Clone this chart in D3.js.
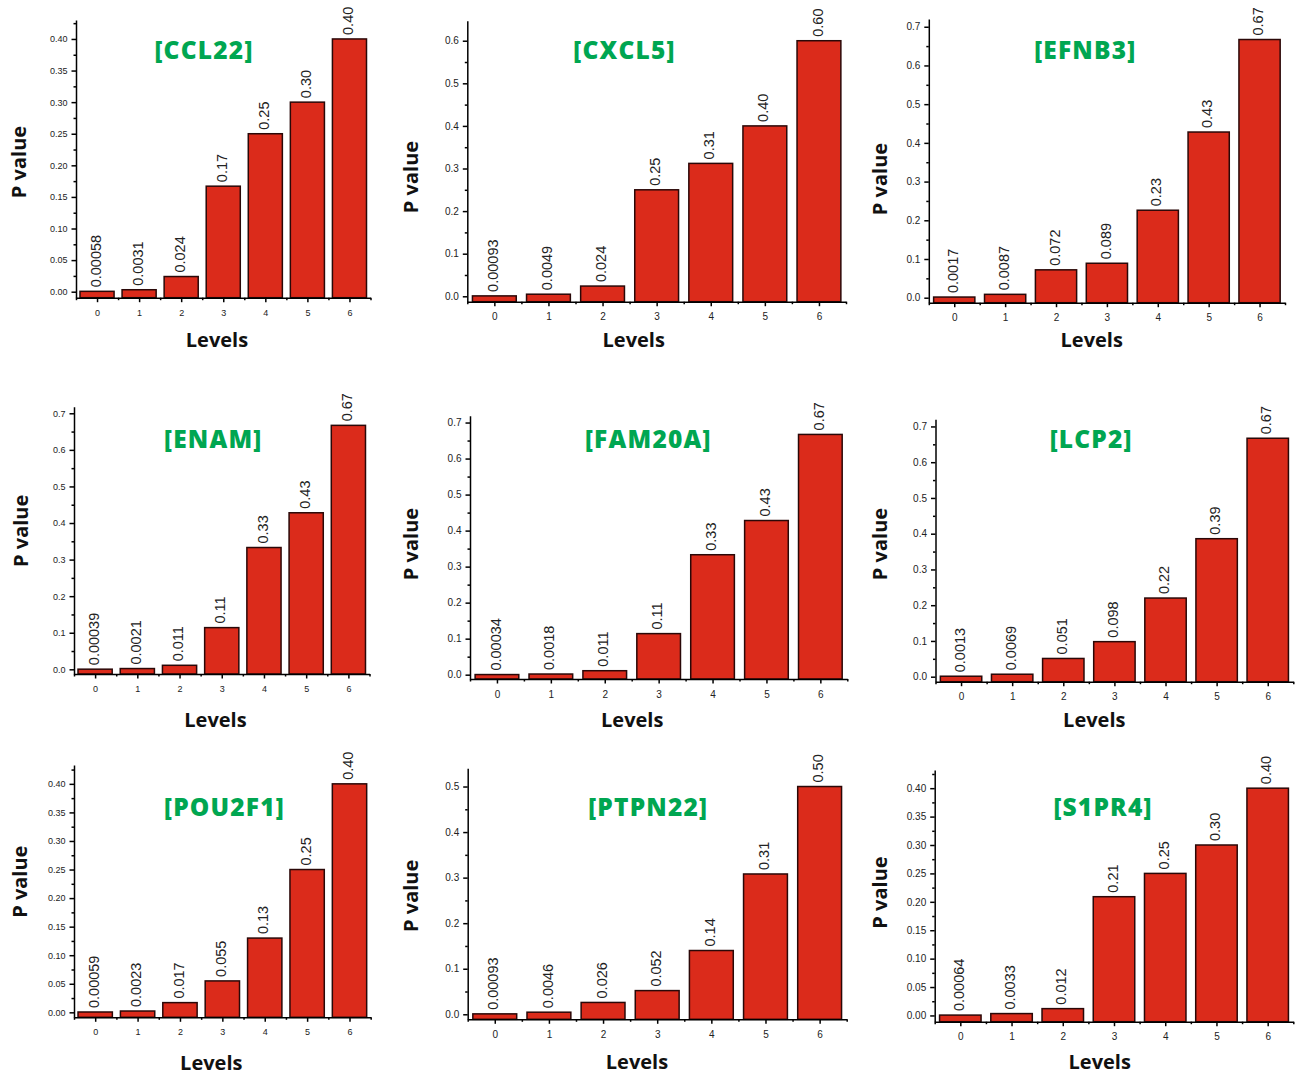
<!DOCTYPE html>
<html lang="en">
<head>
  <meta charset="utf-8">
  <title>P value por nivel</title>
  <script src="https://d3js.org/d3.v7.min.js"></script>
  <style>
    body { margin: 0; background: #fff; }
    .eixo path, .eixo line { stroke: #000; stroke-width: 1.5px; }
    .eixo text { font-family: "Liberation Sans", Arial, sans-serif; fill: #222; }
    .barra { fill: #db2b1b; stroke: #2a0808; stroke-width: 1.5px; }
    .rotulo { font: 14.5px "Liberation Sans", Arial, sans-serif; fill: #222; }
    .titulo { font-family: "Open Sans", sans-serif; font-weight: 800; font-size: 24.5px; letter-spacing: 1.2px; fill: #00a651; }
    .nomeEixo { font-family: "Open Sans", sans-serif; font-weight: 700; font-size: 20px; fill: #111; }
  </style>
</head>
<body>
  <svg id="chart" width="1304" height="1077"></svg>

  <script>
    "use strict"
    // dados
    const levels = [0, 1, 2, 3, 4, 5, 6];
    const genes = ["[CCL22]", "[CXCL5]", "[EFNB3]", "[ENAM]", "[FAM20A]", "[LCP2]", "[POU2F1]", "[PTPN22]", "[S1PR4]"];

    const ccl22  = [0.00058, 0.0031, 0.024, 0.167, 0.25, 0.30, 0.40];
    const cxcl5  = [0.00093, 0.0049, 0.024, 0.25, 0.312, 0.40, 0.60];
    const efnb3  = [0.0017, 0.0087, 0.072, 0.089, 0.226, 0.428, 0.667];
    const enam   = [0.00039, 0.0021, 0.011, 0.114, 0.333, 0.428, 0.667];
    const fam20a = [0.00034, 0.0018, 0.011, 0.114, 0.333, 0.428, 0.667];
    const lcp2   = [0.0013, 0.0069, 0.051, 0.098, 0.22, 0.386, 0.667];
    const pou2f1 = [0.00059, 0.0023, 0.017, 0.055, 0.13, 0.25, 0.40];
    const ptpn22 = [0.00093, 0.0046, 0.026, 0.052, 0.14, 0.308, 0.50];
    const s1pr4  = [0.00064, 0.0033, 0.012, 0.209, 0.25, 0.30, 0.40];

    const series = [ccl22, cxcl5, efnb3, enam, fam20a, lcp2, pou2f1, ptpn22, s1pr4];

    // topo de cada eixo y e passo das marcas
    const yMax   = [0.43, 0.647, 0.72, 0.718, 0.719, 0.72, 0.433, 0.54, 0.432];
    const yStep  = [0.05, 0.1, 0.1, 0.1, 0.1, 0.1, 0.05, 0.1, 0.05];

    // posicao de cada painel na pagina (px)
    const paineis = [
      {left: 76,    right: 370.5,  top: 20,    bottom: 297.7,  y0: -0.0095, font: 9,  tx: 204,    ty: 59,  px: 19,    py: 162,   lx: 217,    ly: 347},
      {left: 467.3, right: 846,    top: 20.7,  bottom: 301.7,  y0: -0.0127, font: 10, tx: 624.5,  ty: 59,  px: 411,   py: 177,   lx: 633.7,  ly: 347},
      {left: 928.8, right: 1285,   top: 19,    bottom: 302.7,  y0: -0.0129, font: 10, tx: 1085.3, ty: 59,  px: 879.3, py: 179,   lx: 1091.7, ly: 347},
      {left: 74,    right: 369.5,  top: 406.7, bottom: 674,    y0: -0.0128, font: 9,  tx: 213.3,  ty: 448, px: 20.5,  py: 530.8, lx: 215.5,  ly: 727},
      {left: 470,   right: 847.3,  top: 415.7, bottom: 679,    y0: -0.012,  font: 10, tx: 648.3,  ty: 448, px: 410.7, py: 544,   lx: 632.2,  ly: 727},
      {left: 935.5, right: 1293.3, top: 419.3, bottom: 681.7,  y0: -0.014,  font: 10, tx: 1091.2, ty: 448, px: 879.3, py: 544,   lx: 1094.3, ly: 727},
      {left: 74,    right: 370.7,  top: 765,   bottom: 1017.3, y0: -0.0087, font: 9,  tx: 224.5,  ty: 816, px: 20,    py: 881.7, lx: 211.3,  ly: 1070},
      {left: 467.7, right: 846.7,  top: 768.3, bottom: 1019.3, y0: -0.011,  font: 10, tx: 648.2,  ty: 816, px: 410.7, py: 895.8, lx: 637,    ly: 1069},
      {left: 934.7, right: 1293.3, top: 770,   bottom: 1021.7, y0: -0.011,  font: 10, tx: 1103,   ty: 816, px: 879.3, py: 892.5, lx: 1099.7, ly: 1069}
    ];

    const svg = d3.select('#chart');
    const fmtRotulo = d3.format(".2r");

    function desenhaPainel(p, nome, valores, topo, passo) {
      const g = svg.append('g');
      const x = d3.scaleLinear().domain([-0.5, 6.5]).range([p.left, p.right]);
      const y = d3.scaleLinear().domain([p.y0, topo]).range([p.bottom, p.top]);
      const larg = (x(1) - x(0)) * 0.81;

      // marcas maiores e menores do eixo y
      const maiores = d3.range(0, topo + 1e-9, passo).map(v => +v.toFixed(3));
      const menores = d3.range(passo / 2, topo, passo).map(v => +v.toFixed(4));
      const casas = passo < 0.1 ? ".2f" : ".1f";

      // barras
      g.selectAll('rect')
        .data(valores)
        .enter()
          .append('rect')
          .attr('class', 'barra')
          .attr('x', (d, i) => x(levels[i]) - larg / 2)
          .attr('width', larg)
          .attr('y', d => y(d))
          .attr('height', d => y(p.y0) - y(d));

      // rotulos dos valores, de pe
      g.selectAll('text.rotulo')
        .data(valores)
        .enter()
          .append('text')
          .attr('class', 'rotulo')
          .attr('transform', (d, i) => 'translate(' + x(levels[i]) + ',' + (y(d) - 4) + ') rotate(-90)')
          .attr('dy', '0.25em')
          .text(d => fmtRotulo(d));

      // eixo y
      const eixoY = g.append('g')
        .attr('class', 'eixo')
        .attr('transform', 'translate(' + p.left + ',0)')
        .call(d3.axisLeft(y).tickValues(maiores).tickFormat(d3.format(casas))
              .tickSize(4.5).tickSizeOuter(0).tickPadding(4));
      eixoY.selectAll('text').style('font-size', p.font + 'px');
      g.append('g')
        .attr('class', 'eixo')
        .attr('transform', 'translate(' + p.left + ',0)')
        .call(d3.axisLeft(y).tickValues(menores).tickFormat('').tickSize(2.5))
        .select('.domain').remove();

      // eixo x
      const eixoX = g.append('g')
        .attr('class', 'eixo')
        .attr('transform', 'translate(0,' + p.bottom + ')')
        .call(d3.axisBottom(x).tickValues(levels).tickFormat(d3.format("d"))
              .tickSize(4.5).tickSizeOuter(0).tickPadding(7));
      eixoX.selectAll('text').style('font-size', p.font + 'px');
      g.append('g')
        .attr('class', 'eixo')
        .attr('transform', 'translate(0,' + p.bottom + ')')
        .call(d3.axisBottom(x).tickValues(d3.range(-0.5, 7, 1)).tickFormat('').tickSize(2.5))
        .select('.domain').remove();

      // titulo do gene
      g.append('text')
        .attr('class', 'titulo')
        .attr('x', p.tx)
        .attr('y', p.ty)
        .attr('text-anchor', 'middle')
        .text(nome);

      // nomes dos eixos
      g.append('text')
        .attr('class', 'nomeEixo')
        .attr('transform', 'translate(' + p.px + ',' + p.py + ') rotate(-90)')
        .attr('text-anchor', 'middle')
        .attr('dy', '0.37em')
        .text('P value');
      g.append('text')
        .attr('class', 'nomeEixo')
        .attr('x', p.lx)
        .attr('y', p.ly)
        .attr('text-anchor', 'middle')
        .text('Levels');
    }

    paineis.forEach((p, i) => desenhaPainel(p, genes[i], series[i], yMax[i], yStep[i]));
  </script>
</body>
</html>
